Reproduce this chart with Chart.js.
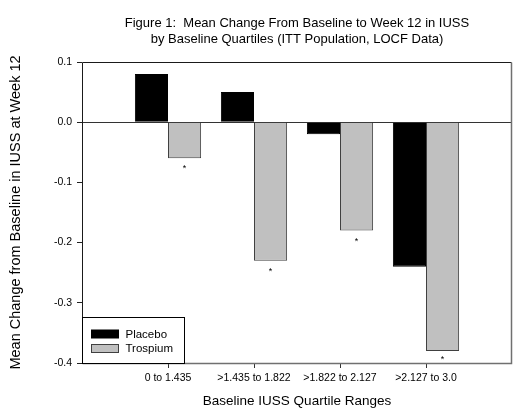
<!DOCTYPE html>
<html>
<head>
<meta charset="utf-8">
<script src="https://cdn.jsdelivr.net/npm/chart.js@4.4.1/dist/chart.umd.min.js"></script>
<style>
  body { margin: 0; background: #fff; }
  #wrap { width: 516px; height: 408px; }
</style>
</head>
<body>
<div id="wrap"><canvas id="mycanvas" width="516" height="408"></canvas></div>
<script>
// values
var categories = ['0 to 1.435', '>1.435 to 1.822', '>1.822 to 2.127', '>2.127 to 3.0'];
var placebo = [0.08, 0.05, -0.02, -0.24];
var trospium = [-0.06, -0.23, -0.18, -0.38];
var trospiumMarks = ['*', '*', '*', '*'];
var yTicks = [0.1, 0.0, -0.1, -0.2, -0.3, -0.4];
var titleLines = ['Figure 1:  Mean Change From Baseline to Week 12 in IUSS',
                  'by Baseline Quartiles (ITT Population, LOCF Data)'];
var xTitle = 'Baseline IUSS Quartile Ranges';
var yTitle = 'Mean Change from Baseline in IUSS at Week 12';

var FONT = "'Liberation Sans', Arial, sans-serif";

// empty slots at both ends so the quartiles sit on inner ticks
var labels = [''].concat(categories, ['']);
var placeboData = [null].concat(placebo, [null]);
var trospiumData = [null].concat(trospium, [null]);

var titlePlugin = {
    id: 'twoLineTitle',
    afterDraw: function (chart) {
        var ctx = chart.ctx, a = chart.chartArea;
        var cx = (a.left + a.right) / 2;
        ctx.save();
        ctx.fillStyle = '#000';
        ctx.font = '13px ' + FONT;
        ctx.textAlign = 'center';
        ctx.textBaseline = 'alphabetic';
        for (var i = 0; i < titleLines.length; i++) {
            ctx.fillText(titleLines[i], cx, 27 + i * 16);
        }
        ctx.restore();
    }
};

var framePlugin = {
    id: 'frameLegendMarks',
    afterDatasetsDraw: function (chart) {
        var ctx = chart.ctx, a = chart.chartArea;
        ctx.save();
        // significance marks under Trospium bars
        var meta = chart.getDatasetMeta(1);
        ctx.fillStyle = '#000';
        ctx.font = '9px ' + FONT;
        ctx.textAlign = 'center';
        ctx.textBaseline = 'alphabetic';
        for (var i = 0; i < trospiumMarks.length; i++) {
            var el = meta.data[i + 1];
            var y = Math.min(el.y + 13, a.bottom - 1);
            ctx.fillText(trospiumMarks[i], el.x, y);
        }

        // frame around the plot
        var l = Math.round(a.left) + 0.5, r = Math.round(a.right) - 0.5;
        var t = Math.round(a.top) + 0.5, b = Math.round(a.bottom) + 0.5;
        ctx.lineWidth = 1;
        ctx.strokeStyle = '#1a1a1a';
        ctx.beginPath();
        ctx.moveTo(l, b); ctx.lineTo(l, t); ctx.lineTo(r, t);
        ctx.stroke();
        ctx.strokeStyle = '#707070';
        ctx.lineWidth = 1.5;
        ctx.beginPath();
        ctx.moveTo(r, t); ctx.lineTo(r, b); ctx.lineTo(l, b);
        ctx.stroke();

        // legend box in lower left corner
        var bw = 102, bh = 46;
        var bx = Math.round(a.left) + 0.5, by = Math.round(a.bottom) - bh + 0.5;
        ctx.fillStyle = '#fff';
        ctx.fillRect(bx, by, bw, bh);
        ctx.lineWidth = 1;
        ctx.strokeStyle = '#000';
        ctx.strokeRect(bx, by, bw, bh);
        ctx.font = '11.5px ' + FONT;
        ctx.textAlign = 'left';
        ctx.textBaseline = 'middle';
        chart.data.datasets.forEach(function (ds, k) {
            var cy = by + 16.5 + k * 14.5;
            ctx.fillStyle = ds.backgroundColor;
            ctx.fillRect(bx + 9, cy - 4, 27, 8);
            ctx.strokeStyle = ds.borderColor;
            ctx.strokeRect(bx + 9, cy - 4, 27, 8);
            ctx.fillStyle = '#000';
            ctx.fillText(ds.label, bx + 43, cy + 0.5);
        });
        ctx.restore();
    }
};

var ctx = document.getElementById('mycanvas');

var barGraph = new Chart(ctx, {
    type: 'bar',
    data: {
        labels: labels,
        datasets: [{
            label: 'Placebo',
            backgroundColor: '#000000',
            borderColor: '#000000',
            borderWidth: 1,
            data: placeboData
        }, {
            label: 'Trospium',
            backgroundColor: '#c0c0c0',
            borderColor: '#404040',
            borderWidth: 1,
            data: trospiumData
        }]
    },
    options: {
        responsive: false,
        animation: false,
        layout: { padding: { left: 0, right: 4, top: 62, bottom: 0 } },
        datasets: { bar: { categoryPercentage: 0.77, barPercentage: 1 } },
        plugins: {
            legend: { display: false },
            title: { display: false },
            tooltip: { enabled: false }
        },
        scales: {
            x: {
                type: 'category',
                offset: false,
                afterFit: function (scale) { scale.height = 45; },
                border: { display: false },
                grid: {
                    offset: false,
                    drawOnChartArea: false,
                    tickLength: 5,
                    tickColor: function (c) {
                        return (c.index === 0 || c.index === labels.length - 1) ? 'rgba(0,0,0,0)' : '#333';
                    }
                },
                ticks: {
                    color: '#000',
                    padding: 4,
                    maxRotation: 0,
                    autoSkip: false,
                    font: { family: FONT, size: 10.5 }
                },
                title: {
                    display: true,
                    text: xTitle,
                    color: '#000',
                    padding: 0,
                    font: { family: FONT, size: 13.5, lineHeight: 1 }
                }
            },
            y: {
                min: -0.4,
                max: 0.1,
                afterFit: function (scale) { scale.width = 82; },
                afterBuildTicks: function (scale) {
                    scale.ticks = yTicks.map(function (v) { return { value: v }; });
                },
                border: { display: false },
                grid: {
                    drawOnChartArea: true,
                    tickLength: 5,
                    tickColor: '#222',
                    color: function (c) {
                        return (c.tick && Math.abs(c.tick.value) < 1e-9) ? '#333' : 'rgba(0,0,0,0)';
                    }
                },
                ticks: {
                    color: '#000',
                    padding: 5,
                    font: { family: FONT, size: 10.5 },
                    callback: function (v) {
                        return Math.abs(v) < 1e-9 ? '0.0' : Number(v).toFixed(1);
                    }
                },
                title: {
                    display: true,
                    text: yTitle,
                    color: '#000',
                    padding: { top: 9, bottom: 0 },
                    font: { family: FONT, size: 14.5, lineHeight: 1 }
                }
            }
        }
    },
    plugins: [titlePlugin, framePlugin]
});
</script>
</body>
</html>
